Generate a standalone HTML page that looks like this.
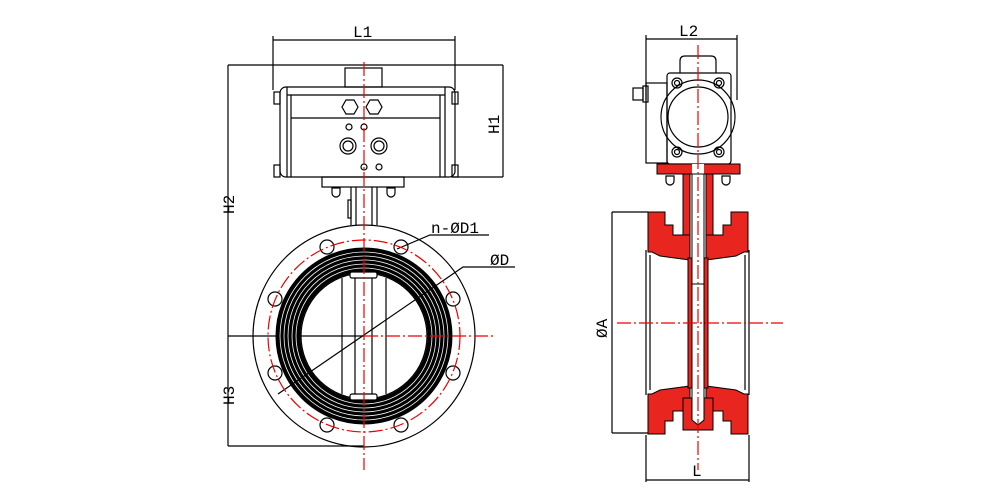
<!DOCTYPE html>
<html><head><meta charset="utf-8"><style>html,body{margin:0;padding:0;background:#fff}svg{display:block}</style></head><body>
<svg width="990" height="498" viewBox="0 0 990 498" xmlns="http://www.w3.org/2000/svg" font-family="Liberation Mono, DejaVu Sans Mono, monospace">
<g fill="none" stroke="#000" stroke-width="1.2">
<line x1="273" y1="40" x2="455" y2="40"/><line x1="273" y1="36" x2="273" y2="90"/><line x1="455" y1="36" x2="455" y2="90"/>
<line x1="228" y1="65" x2="503" y2="65"/><line x1="452" y1="177" x2="503" y2="177"/><line x1="503" y1="65" x2="503" y2="177"/>
<line x1="228" y1="65" x2="228" y2="446"/><line x1="228" y1="336" x2="364" y2="336"/><line x1="228" y1="446" x2="364" y2="446"/>
<rect x="345" y="68" width="37" height="19"/>
<rect x="280" y="87" width="175" height="90" rx="6"/>
<rect x="274" y="92" width="6" height="12"/><rect x="274" y="165" width="6" height="12"/>
<rect x="452" y="92" width="6" height="12"/><rect x="452" y="165" width="6" height="12"/>
<line x1="287" y1="87" x2="287" y2="177"/><line x1="291" y1="95" x2="291" y2="177"/>
<line x1="440" y1="95" x2="440" y2="177"/><line x1="445" y1="87" x2="445" y2="177"/>
<line x1="287" y1="95" x2="445" y2="95"/><line x1="291" y1="118" x2="440" y2="118"/>
<polygon points="346,100 354,100 358,107 354,114 346,114 342,107"/><polygon points="370,100 378,100 382,107 378,114 370,114 366,107"/>
<circle cx="349" cy="127" r="3"/><circle cx="364" cy="127" r="3"/><circle cx="364" cy="167" r="3"/><circle cx="379" cy="167" r="3"/>
<circle cx="348" cy="146" r="8"/><circle cx="348" cy="146" r="5"/><circle cx="379" cy="146" r="8"/><circle cx="379" cy="146" r="5"/>
<rect x="322" y="177" width="82" height="10"/>
<path d="M332 188 h8 v5 a4 4 0 0 1 -8 0z"/><path d="M387 188 h8 v5 a4 4 0 0 1 -8 0z"/>
<line x1="351" y1="187" x2="351" y2="225"/><line x1="356" y1="187" x2="356" y2="225"/><line x1="372" y1="187" x2="372" y2="225"/><line x1="377" y1="187" x2="377" y2="225"/>
<rect x="348" y="200" width="3" height="18"/>
<circle cx="364" cy="336" r="111"/>
</g>
<circle cx="364" cy="336" r="76" fill="none" stroke="#000" stroke-width="25"/>
<g fill="none" stroke="#fff" stroke-width="0.8"><circle cx="364" cy="336" r="68"/><circle cx="364" cy="336" r="72"/><circle cx="364" cy="336" r="76"/><circle cx="364" cy="336" r="80"/><circle cx="364" cy="336" r="84"/></g>
<g fill="none" stroke="#000" stroke-width="1.2">
<circle cx="364" cy="336" r="63"/>
<line x1="342" y1="278" x2="342" y2="394"/><line x1="386" y1="278" x2="386" y2="394"/>
<line x1="355" y1="278" x2="355" y2="394"/><line x1="372" y1="278" x2="372" y2="394"/>
<rect x="350" y="272" width="27" height="6" rx="2" fill="#fff"/><rect x="350" y="394" width="27" height="6" rx="2" fill="#fff"/>
<g transform="translate(364 336)">
<circle cx="37" cy="-89" r="7"/><circle cx="-37" cy="-89" r="7"/><circle cx="37" cy="89" r="7"/><circle cx="-37" cy="89" r="7"/>
<circle cx="89" cy="-37" r="7"/><circle cx="-89" cy="-37" r="7"/><circle cx="89" cy="37" r="7"/><circle cx="-89" cy="37" r="7"/>
</g>
<polyline points="397,249 430,235 489,235"/>
<polyline points="278,394 463,267 515,267"/>
</g>
<g fill="none" stroke="#e00" stroke-width="1.2" stroke-dasharray="14,3,2,3">
<circle cx="364" cy="336" r="96"/>
<line x1="364" y1="62" x2="364" y2="470"/>
<line x1="364" y1="336" x2="494" y2="336"/>
</g>
<g fill="none" stroke="#000" stroke-width="1.2">
<line x1="646" y1="39" x2="737" y2="39"/><line x1="646" y1="35" x2="646" y2="100"/><line x1="737" y1="35" x2="737" y2="100"/>
<line x1="612" y1="212" x2="612" y2="433"/><line x1="612" y1="212" x2="648" y2="212"/><line x1="612" y1="433" x2="648" y2="433"/>
<line x1="646" y1="480" x2="749" y2="480"/><line x1="646" y1="435" x2="646" y2="482"/><line x1="749" y1="435" x2="749" y2="482"/>
<path d="M680 73 v-12 q0 -5 5 -5 h26 q5 0 5 5 v12"/>
<rect x="667" y="73" width="64" height="91" rx="3"/>
<rect x="646" y="83" width="21" height="80"/>
<rect x="633" y="88" width="10" height="12"/><rect x="643" y="86" width="5" height="16"/>
<circle cx="698" cy="117" r="37"/><circle cx="698" cy="117" r="30"/>
<circle cx="677" cy="83" r="5"/><circle cx="677" cy="83" r="2.5"/><circle cx="719" cy="83" r="5"/><circle cx="719" cy="83" r="2.5"/>
<circle cx="677" cy="152" r="5"/><circle cx="677" cy="152" r="2.5"/><circle cx="719" cy="152" r="5"/><circle cx="719" cy="152" r="2.5"/>
<path d="M666 176 h8 v5 a4 4 0 0 1 -8 0z"/><path d="M722 176 h8 v5 a4 4 0 0 1 -8 0z"/>
<line x1="646" y1="250" x2="646" y2="395"/><line x1="650" y1="255" x2="650" y2="390"/>
<line x1="749" y1="250" x2="749" y2="395"/><line x1="745" y1="255" x2="745" y2="390"/>
</g>
<g fill="#e8261f" stroke="#000" stroke-width="1">
<rect x="657" y="164" width="83" height="10"/>
<rect x="683" y="174" width="7" height="84"/>
<rect x="706" y="174" width="7" height="84"/>
<g id="bd">
<polygon points="648,212 665,212 665,225 673,225 673,235 690,235 690,260 660,256 652,252 648,252"/>
<rect x="688" y="258" width="4" height="65"/>
</g>
<use href="#bd" transform="translate(1396 0) scale(-1 1)"/>
<use href="#bd" transform="translate(0 646) scale(1 -1)"/>
<use href="#bd" transform="translate(1396 646) scale(-1 -1)"/>
<rect x="683" y="398" width="30" height="32"/>
</g>
<g fill="#fff" stroke="#000" stroke-width="1">
<rect x="692" y="164" width="12" height="10" stroke="none"/>
<rect x="692" y="174" width="12" height="110"/>
<path d="M692 284 h12 v136 l-6 5 l-6 -5 z"/>
</g>
<g fill="none" stroke="#e00" stroke-width="1.2" stroke-dasharray="14,3,2,3">
<line x1="698" y1="45" x2="698" y2="470"/>
<line x1="617" y1="323" x2="783" y2="323"/>
</g>
<g font-size="16" fill="#000">
<text x="353" y="37">L1</text>
<text x="679" y="36">L2</text>
<text x="431" y="233">n-ØD1</text>
<text x="490" y="265">ØD</text>
<text x="692" y="476">L</text>
<text transform="translate(499 134) rotate(-90)">H1</text>
<text transform="translate(234 214) rotate(-90)">H2</text>
<text transform="translate(234 405) rotate(-90)">H3</text>
<text transform="translate(607 338) rotate(-90)">ØA</text>
</g>
</svg>
</body></html>
